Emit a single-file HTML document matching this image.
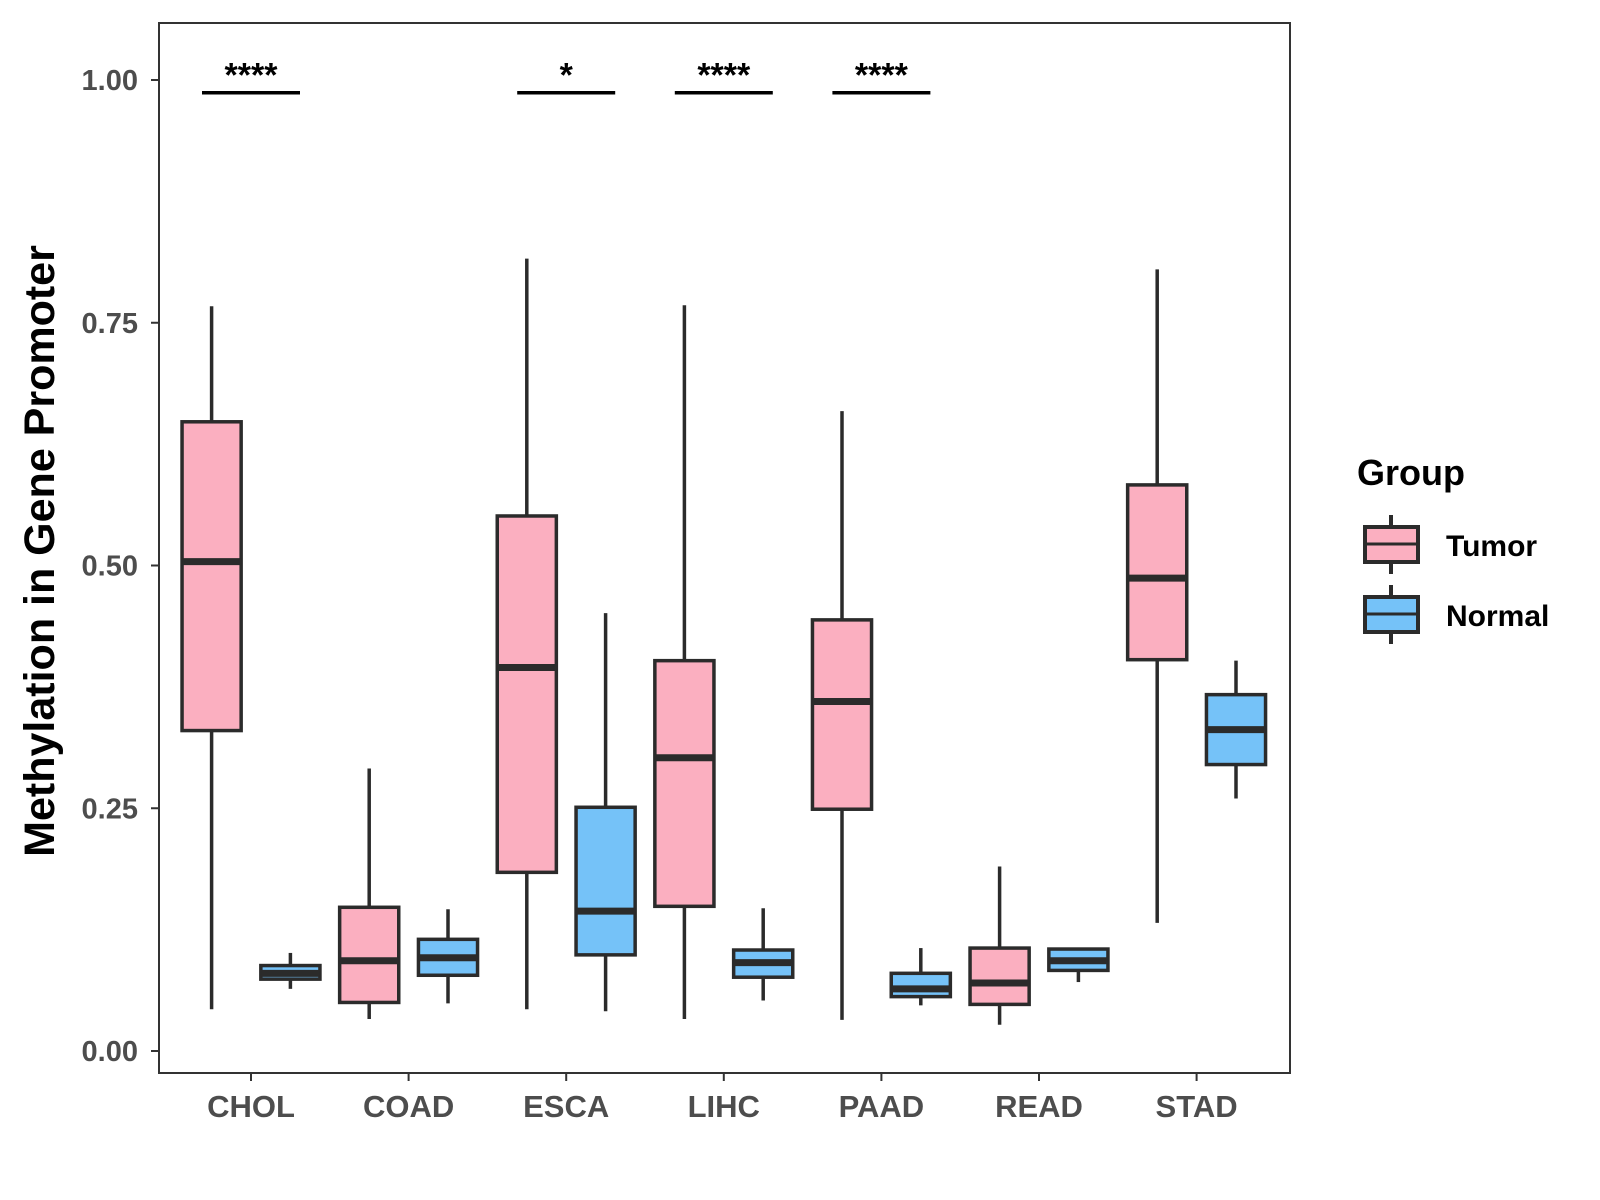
<!DOCTYPE html>
<html><head><meta charset="utf-8"><style>
html,body{margin:0;padding:0;background:#fff}
svg{display:block}
text{font-family:"Liberation Sans",Arial,sans-serif;font-weight:bold}
</style></head><body>
<svg id="chart" width="1600" height="1200" viewBox="0 0 1600 1200">
<rect x="159" y="23" width="1131" height="1050" fill="#fff" stroke="#333" stroke-width="2"/>
<g id="yaxis"></g>
<g id="xaxis"></g>
<g id="boxes"></g>
<g id="sig"></g>
<text x="0" y="0" transform="translate(54,551) rotate(-90)" text-anchor="middle" font-size="43" fill="#000">Methylation in Gene Promoter</text>
<g transform="translate(-7,0)">
<text x="1364" y="485" font-size="36" fill="#000">Group</text>
<g>
<line x1="1398" y1="515" x2="1398" y2="574" stroke="#2b2b2b" stroke-width="4"/>
<rect x="1372" y="527" width="53" height="35" fill="#FBAFC0" stroke="#2b2b2b" stroke-width="4"/>
<line x1="1372" y1="544" x2="1425" y2="544" stroke="#2b2b2b" stroke-width="3"/>
<text x="1453" y="556" font-size="30" fill="#000">Tumor</text>
</g>
<g>
<line x1="1398" y1="585" x2="1398" y2="644" stroke="#2b2b2b" stroke-width="4"/>
<rect x="1372" y="597" width="53" height="35" fill="#75C2F8" stroke="#2b2b2b" stroke-width="4"/>
<line x1="1372" y1="614" x2="1425" y2="614" stroke="#2b2b2b" stroke-width="3"/>
<text x="1453" y="626" font-size="30" fill="#000">Normal</text>
</g>
</g>
</svg>
<script>
const categories = ["CHOL","COAD","ESCA","LIHC","PAAD","READ","STAD"];
// [low, q1, median, q3, high]
const tumorStats = [
 [0.043,0.330,0.504,0.648,0.767],
 [0.033,0.050,0.093,0.148,0.291],
 [0.043,0.184,0.395,0.551,0.816],
 [0.033,0.149,0.302,0.402,0.768],
 [0.032,0.249,0.360,0.444,0.659],
 [0.027,0.048,0.070,0.106,0.190],
 [0.132,0.403,0.487,0.583,0.805]];
const normalStats = [
 [0.064,0.074,0.080,0.088,0.101],
 [0.049,0.078,0.096,0.115,0.146],
 [0.041,0.099,0.144,0.251,0.451],
 [0.052,0.076,0.091,0.104,0.147],
 [0.047,0.056,0.064,0.080,0.106],
 [0.071,0.083,0.093,0.105,0.105],
 [0.260,0.295,0.331,0.367,0.402]];
const yTicks = [0,0.25,0.5,0.75,1.0];
const yTickLabels = ["0.00","0.25","0.50","0.75","1.00"];
const sigCats = ["CHOL","ESCA","LIHC","PAAD"];
const sigLabels = ["****","*","****","****"];
const sigLevel = 0.99;

const NS="http://www.w3.org/2000/svg";
const y = v => 1051 - v*971;
const step = 157.6;
const x = i => 251 + i*step;
function mk(tag, attrs, parent){const e=document.createElementNS(NS,tag);for(const k in attrs)e.setAttribute(k,attrs[k]);parent.appendChild(e);return e;}
const yaxis=document.getElementById('yaxis'), xaxis=document.getElementById('xaxis'), boxes=document.getElementById('boxes'), sig=document.getElementById('sig');
yTicks.forEach((t,i)=>{
  const l=mk('line',{x1:151,x2:159,y1:y(t),y2:y(t),stroke:'#333','stroke-width':2},yaxis);
  
  
  const tx=mk('text',{x:138,y:y(t)+10,'text-anchor':'end','font-size':29,fill:'#4d4d4d'},yaxis);
  tx.textContent=yTickLabels[i];
  
  
});
categories.forEach((c,i)=>{
  const l=mk('line',{x1:x(i),x2:x(i),y1:1073,y2:1081,stroke:'#333','stroke-width':2},xaxis);
  
  
  const tx=mk('text',{x:x(i),y:1117,'text-anchor':'middle','font-size':31,fill:'#4d4d4d'},xaxis);
  tx.textContent=c;
  
  
});
const bw = step*0.375, off = step*0.25;
function drawBox(s, cx, fill, name){
  const g=mk('g',{},boxes);
  
  
  mk('line',{x1:cx,x2:cx,y1:y(s[0]),y2:y(s[4]),stroke:'#2b2b2b','stroke-width':3.5},g);
  mk('rect',{x:cx-bw/2,y:y(s[3]),width:bw,height:y(s[1])-y(s[3]),fill:fill,stroke:'#2b2b2b','stroke-width':3.5},g);
  mk('line',{x1:cx-bw/2,x2:cx+bw/2,y1:y(s[2]),y2:y(s[2]),stroke:'#2b2b2b','stroke-width':7},g);
}
categories.forEach((c,i)=>{
  drawBox(tumorStats[i], x(i)-off, '#FBAFC0', 'box-tumor-'+c.toLowerCase());
  drawBox(normalStats[i], x(i)+off, '#75C2F8', 'box-normal-'+c.toLowerCase());
});
sigCats.forEach((c,j)=>{
  const i=categories.indexOf(c);
  const l=mk('line',{x1:x(i)-49,x2:x(i)+49,y1:y(sigLevel)+3,y2:y(sigLevel)+3,stroke:'#000','stroke-width':3.5},sig);
  
  
  const t=mk('text',{x:x(i),y:y(sigLevel)-3,'text-anchor':'middle','font-size':34,fill:'#000'},sig);
  t.textContent=sigLabels[j];
  
  
});
</script>
</body></html>
